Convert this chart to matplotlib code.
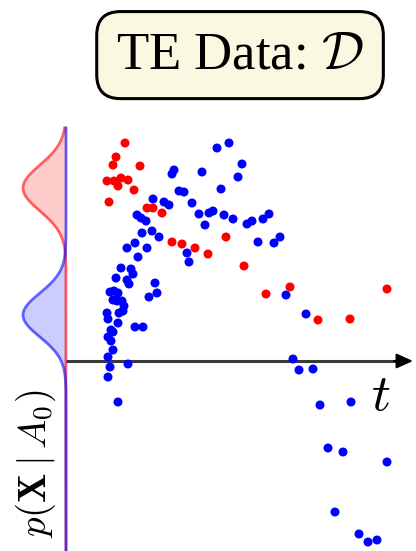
import numpy as np
import matplotlib.pyplot as plt

plt.rcParams['mathtext.fontset'] = 'cm'

# observations (t, X), units: 1 = 10 px in the original
blue_t = [10.8, 10.6, 13.6, 11.3, 11.8, 8.7, 9.8, 10.3, 12.6, 13.3, 13.9,
          7.1, 7.5, 8.0, 7.6, 8.6, 9.3, 6.9, 6.1, 8.1, 7.2, 12.1, 12.3,
          5.5, 6.5, 6.7, 5.0, 6.1, 6.3, 8.9, 9.1, 8.3, 4.4, 4.8, 5.2,
          4.7, 5.1, 5.6, 5.8, 5.7, 5.3, 4.1, 4.2, 5.2, 4.5, 4.7, 6.9, 7.7,
          4.2, 4.5, 4.7, 4.2, 4.4, 6.2, 4.2, 5.2,
          15.1, 16.3, 17.6, 17.2, 15.5, 14.3, 14.7, 15.8, 16.7, 18.1, 18.6,
          19.7, 20.3, 19.2, 20.8, 21.4, 22.0, 24.0, 22.7, 23.3, 24.7, 25.4,
          28.5, 26.2, 27.7, 32.1, 26.9, 29.3, 30.2, 31.1]
blue_x = [19.1, 18.7, 18.9, 17.0, 16.9, 16.2, 15.9, 15.6, 15.8, 14.7, 13.6,
          14.6, 14.3, 14.0, 12.8, 13.0, 12.4, 11.8, 11.3, 11.3, 10.4, 10.8, 9.9,
          9.3, 9.2, 8.7, 8.3, 8.1, 7.7, 7.8, 6.8, 6.4, 6.9, 7.0, 6.8,
          6.1, 6.0, 6.0, 5.5, 5.0, 4.8, 4.8, 4.2, 3.8, 3.1, 2.9, 3.4, 3.4,
          2.4, 2.0, 1.1, 0.4, -0.6, -0.3, -1.6, -4.1,
          21.3, 21.8, 19.7, 18.4, 17.2, 14.8, 15.0, 14.6, 14.2, 13.7, 14.0,
          14.2, 14.7, 11.9, 11.8, 12.4, 6.6, 4.7, 0.2, -0.9, -0.8, -4.4,
          -4.1, -8.7, -9.1, -10.1, -15.1, -17.3, -18.1, -17.9]

red_t = [5.9, 5.0, 4.7, 7.4, 4.1, 4.8, 5.5, 6.2, 5.2, 6.8, 4.3, 8.1, 8.7,
         9.6, 10.6, 11.6, 12.9, 14.2, 16.0, 17.8, 20.0, 22.4, 25.2, 28.4, 32.1]
red_x = [21.8, 20.4, 19.6, 19.5, 18.0, 18.0, 18.3, 18.1, 17.5, 17.1, 15.9,
         15.3, 15.3, 14.8, 11.9, 11.7, 11.3, 10.7, 12.4, 9.5, 6.7, 7.4, 4.1,
         4.2, 7.2]

# class-conditional densities at A_0
red_mu, red_sigma = 17.3, 2.3
blue_mu, blue_sigma = 4.6, 2.2
peak = 4.3

fig = plt.figure(figsize=(4.16, 5.51), dpi=100)
ax = fig.add_axes([0, 0, 1, 1])
ax.set_xlim(-6.6, 35.0)
ax.set_ylim(-19.0, 36.1)
ax.axis('off')

xs = np.linspace(-19.0, 23.3, 400)
red_d = -peak * np.exp(-(xs - red_mu) ** 2 / (2 * red_sigma ** 2))
blue_d = -peak * np.exp(-(xs - blue_mu) ** 2 / (2 * blue_sigma ** 2))
ax.fill_betweenx(xs, red_d, 0, color='red', alpha=0.2, lw=0)
ax.fill_betweenx(xs, blue_d, 0, color='blue', alpha=0.2, lw=0)
ax.plot(red_d, xs, color='red', alpha=0.6, lw=2)
ax.plot(blue_d, xs, color='blue', alpha=0.6, lw=2)

# time axis
ax.plot([0, 33], [0, 0], color='#3a3a3a', lw=2.2, solid_capstyle='butt')
ax.annotate('', xy=(34.7, 0), xytext=(32.8, 0),
            arrowprops=dict(arrowstyle='-|>,head_length=1.0,head_width=0.45',
                            color='black', lw=1.5, shrinkA=0, shrinkB=0))

ax.scatter(blue_t, blue_x, s=42, color='blue', edgecolors='none', zorder=3)
ax.scatter(red_t, red_x, s=42, color='red', edgecolors='none', zorder=3)

ax.text(31.5, -3.4, '$t$', fontsize=38, ha='center', va='center')
ax.text(-3.0, -10.3, r'$p(\mathbf{X}\mid A_0)$', fontsize=28, rotation=90,
        ha='center', va='center')

fig.text(0.577, 0.9, r'TE Data: $\mathcal{D}$', fontsize=38,
         family='Liberation Serif', ha='center', va='center',
         bbox=dict(boxstyle='round,pad=0.37,rounding_size=0.45',
                   facecolor='#fbf8e1', edgecolor='black', lw=2.2))

fig.savefig('out.png', dpi=100)
